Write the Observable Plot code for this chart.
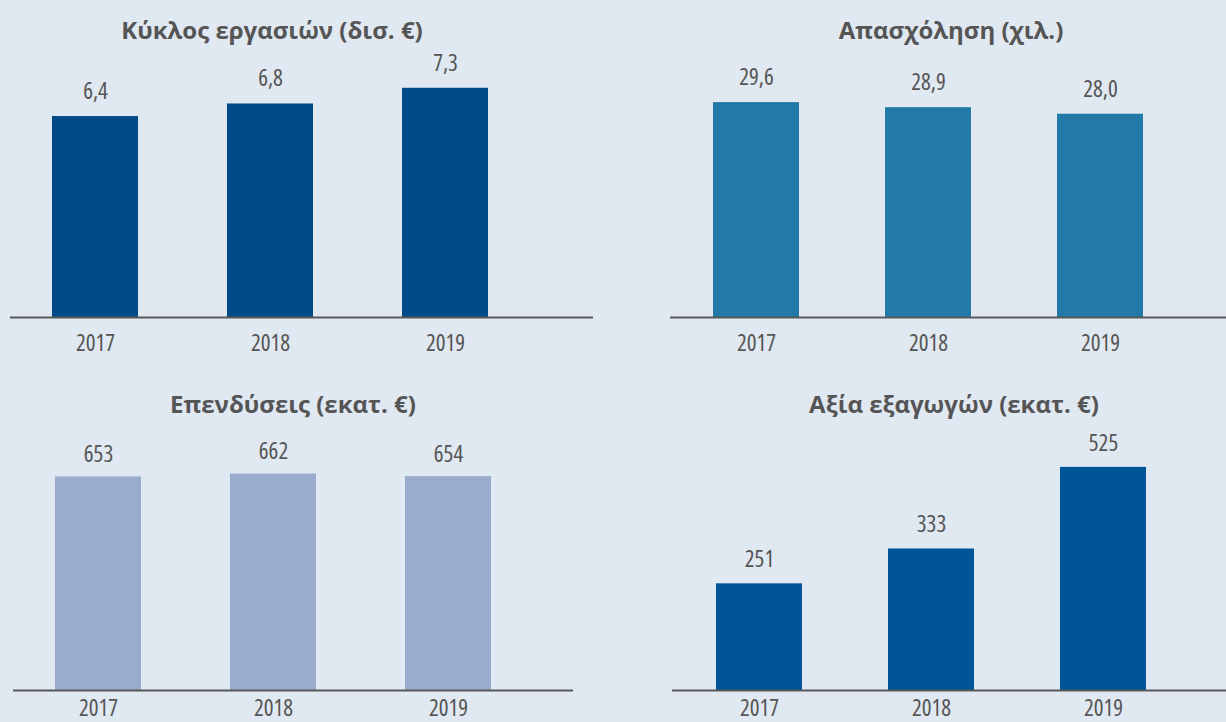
<!DOCTYPE html>
<html>
<head>
<meta charset="utf-8">
<script src="https://cdn.jsdelivr.net/npm/d3@7"></script>
<script src="https://cdn.jsdelivr.net/npm/@observablehq/plot@0.6"></script>
<style>
  html, body { margin: 0; padding: 0; background: #e0e8f1; overflow: hidden; }
  body { width: 1226px; height: 722px; position: relative; font-family: "Open Sans", "DejaVu Sans Condensed", sans-serif; }
  .panel { position: absolute; width: 613px; height: 361px; }
  .title { position: absolute; transform: translate(-50%, -50%); white-space: nowrap; font-weight: 700; font-size: 24px; line-height: 1; color: #555555; font-stretch: 95%; }
  .panel svg text { font-stretch: 87.5%; font-weight: 500; }
  svg { overflow: visible; }
</style>
</head>
<body>
<div id="root"></div>
<script>
// ---- data ----
const years = ["2017", "2018", "2019"];
const titles = ["Κύκλος εργασιών (δισ. €)", "Απασχόληση (χιλ.)", "Επενδύσεις (εκατ. €)", "Αξία εξαγωγών (εκατ. €)"];
const turnover = [6.4, 6.8, 7.3];
const turnoverLabels = ["6,4", "6,8", "7,3"];
const employment = [29.6, 28.9, 28.0];
const employmentLabels = ["29,6", "28,9", "28,0"];
const investment = [653, 662, 654];
const investmentLabels = ["653", "662", "654"];
const exportsValue = [251, 333, 525];
const exportsLabels = ["251", "333", "525"];

// ---- layout / style (not data) ----
const panels = [
  {title: titles[0], values: turnover, labels: turnoverLabels, color: "#004b87",
   left: 0, top: 0, baseline: 317, pxPerUnit: 31.4, xRange: [7.5, 532.5], padIn: 0.508,
   lineLeft: 10, lineRight: 20, titleX: 272, titleY: 30, labelDy: -25, tickPad: 17},
  {title: titles[1], values: employment, labels: employmentLabels, color: "#2379a8",
   left: 613, top: 0, baseline: 317, pxPerUnit: 7.26, xRange: [57, 573], padIn: 0.5,
   lineLeft: 57, lineRight: 0, titleX: 338, titleY: 30, labelDy: -25, tickPad: 17},
  {title: titles[2], values: investment, labels: investmentLabels, color: "#99acce",
   left: 0, top: 361, baseline: 329, pxPerUnit: 0.327, xRange: [10.5, 535.5], padIn: 0.508,
   lineLeft: 13, lineRight: 40, titleX: 293, titleY: 43, labelDy: -22, tickPad: 9},
  {title: titles[3], values: exportsValue, labels: exportsLabels, color: "#005596",
   left: 613, top: 361, baseline: 329, pxPerUnit: 0.425, xRange: [60, 576], padIn: 0.5,
   lineLeft: 59, lineRight: 0, titleX: 341, titleY: 43, labelDy: -24, tickPad: 9}
];

const root = document.getElementById("root");
const W = 613, H = 361;
const FONT = '"Open Sans", "DejaVu Sans Condensed", sans-serif';

for (const p of panels) {
  const div = document.createElement("div");
  div.className = "panel";
  div.style.left = p.left + "px";
  div.style.top = p.top + "px";

  const data = years.map((y, i) => ({year: y, value: p.values[i], label: p.labels[i]}));
  const ymax = p.baseline / p.pxPerUnit;

  const chart = Plot.plot({
    width: W,
    height: H,
    marginLeft: p.lineLeft,
    marginRight: p.lineRight,
    marginTop: 0,
    marginBottom: H - p.baseline,
    style: {
      background: "transparent",
      fontFamily: FONT,
      fontSize: "23px",
      color: "#555555",
      overflow: "visible"
    },
    x: {domain: years, range: p.xRange, paddingInner: p.padIn, paddingOuter: p.padIn / 2, align: 0.5},
    y: {domain: [0, ymax], range: [p.baseline, 0]},
    marks: [
      Plot.barY(data, {x: "year", y: "value", fill: p.color}),
      Plot.ruleY([0], {stroke: "#595959", strokeWidth: 2}),
      Plot.text(data, {x: "year", y: "value", text: "label", dy: p.labelDy, fill: "#555555", fontSize: 23}),
      Plot.axisX({tickSize: 0, tickPadding: p.tickPad, fontSize: 23, fill: "#555555", label: null}),
      Plot.axisY({ticks: [], label: null})
    ]
  });
  chart.style.position = "absolute";
  chart.style.left = "0px";
  chart.style.top = "0px";
  div.appendChild(chart);

  const t = document.createElement("div");
  t.className = "title";
  t.textContent = p.title;
  t.style.left = p.titleX + "px";
  t.style.top = p.titleY + "px";
  div.appendChild(t);

  root.appendChild(div);
}
</script>
</body>
</html>
